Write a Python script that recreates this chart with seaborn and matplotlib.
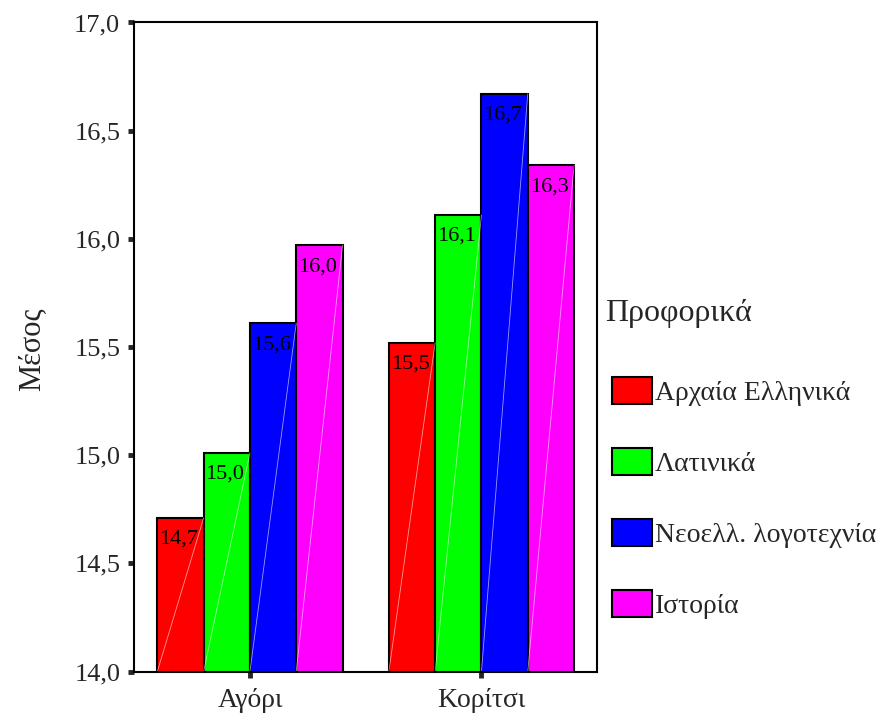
import matplotlib
matplotlib.use("Agg")
import matplotlib.pyplot as plt
import numpy as np
import pandas as pd
import seaborn as sns

# data
groups = ["Αγόρι", "Κορίτσι"]
subjects = ["Αρχαία Ελληνικά", "Λατινικά", "Νεοελλ. λογοτεχνία", "Ιστορία"]
boys = [14.71, 15.01, 15.61, 15.97]
girls = [15.52, 16.11, 16.67, 16.34]
colors = ["#FF0000", "#00FF00", "#0000FF", "#FF00FF"]
yticks = [14.0, 14.5, 15.0, 15.5, 16.0, 16.5, 17.0]

df = pd.DataFrame({
    "group": groups[0:1] * 4 + groups[1:2] * 4,
    "subject": subjects + subjects,
    "mean": boys + girls,
})

sns.set_style("white")
plt.rcParams["font.family"] = ["Liberation Serif", "DejaVu Serif"]

fig = plt.figure(figsize=(8.77, 7.14), dpi=100)
ax = fig.add_axes([0.153, 0.0595, 0.528, 0.909])

sns.barplot(data=df, x="group", y="mean", hue="subject", hue_order=subjects,
            order=groups, palette=colors, width=0.8, saturation=1,
            edgecolor="black", linewidth=1.5, errorbar=None, ax=ax)

ax.set_xlim(-0.5, 1.5)
ax.set_ylim(14.0, 17.0)
ax.set_yticks(yticks)
ax.set_yticklabels([f"{t:.1f}".replace(".", ",") for t in yticks], fontsize=19)
ax.tick_params(axis="x", labelsize=20, bottom=True, direction="out",
               length=4, width=3.5, pad=8)
ax.tick_params(axis="y", left=True, direction="out", length=4, width=3.5, pad=6)
ax.set_xlabel("")
ax.set_ylabel("Μέσος", fontsize=22)
ax.yaxis.set_label_coords(-0.19, 0.497)
for s in ax.spines.values():
    s.set_visible(True)
    s.set_color("black")
    s.set_linewidth(1.5)

# value labels at the top-left inside each bar, plus the faint diagonal
for cont in ax.containers:
    for bar in cont:
        h = bar.get_height()
        x0 = bar.get_x()
        ax.plot([x0, x0 + bar.get_width()], [14.0, h], color="white",
                lw=0.6, alpha=0.6, zorder=bar.get_zorder() + 0.1)
        ax.text(x0 + 0.008, h - 0.055, f"{h:.1f}".replace(".", ","),
                ha="left", va="top", fontsize=16, color="black", zorder=5)

handles, labels = ax.get_legend_handles_labels()
ax.legend(handles, labels, loc="upper left",
          bbox_to_anchor=(612 / 877, 1 - 377 / 714),
          bbox_transform=fig.transFigure, frameon=False, fontsize=20,
          handlelength=1.44, handleheight=1.1, handletextpad=0.1,
          labelspacing=1.52, borderaxespad=0, borderpad=0)
fig.text(605 / 877, 1 - 314 / 714, "Προφορικά", fontsize=23,
         ha="left", va="center")

fig.savefig("out.png", dpi=100)
